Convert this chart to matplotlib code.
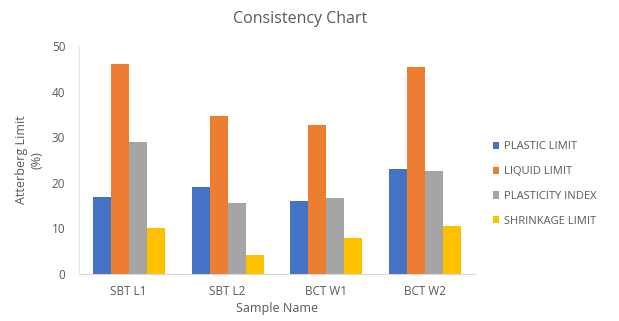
import numpy as np
import matplotlib
matplotlib.use("Agg")
import matplotlib.pyplot as plt

# sample data (Atterberg limits, %)
samples = ["SBT L1", "SBT L2", "BCT W1", "BCT W2"]
plastic_limit = [17.0, 19.0, 16.0, 23.0]
liquid_limit = [46.0, 34.6, 32.6, 45.3]
plasticity_index = [29.0, 15.6, 16.6, 22.5]
shrinkage_limit = [10.0, 4.3, 7.9, 10.6]

series = [
    ("PLASTIC LIMIT", plastic_limit, "#4472C4"),
    ("LIQUID LIMIT", liquid_limit, "#ED7D31"),
    ("PLASTICITY INDEX", plasticity_index, "#A5A5A5"),
    ("SHRINKAGE LIMIT", shrinkage_limit, "#FFC000"),
]

TXT = "#595959"
plt.rcParams["font.family"] = ["Open Sans", "DejaVu Sans"]

fig = plt.figure(figsize=(6.19, 3.21), dpi=100, facecolor="white")
ax = fig.add_axes([0.128, 0.146, 0.639, 0.711])

x = np.arange(len(samples))
w = 0.182
for i, (name, vals, col) in enumerate(series):
    ax.bar(x + (i - 1.5) * w, vals, width=w, color=col, label=name, zorder=2)

ax.set_xlim(-0.5, len(samples) - 0.5)
ax.set_ylim(0, 50)
ax.set_yticks(range(0, 51, 10))
ax.set_xticks(x)
ax.set_xticklabels(samples)
ax.tick_params(length=0, colors=TXT, labelsize=8.5)
ax.tick_params(axis="x", pad=8)
ax.tick_params(axis="y", pad=10)

for side in ("top", "right"):
    ax.spines[side].set_visible(False)
ax.spines["left"].set_color("#e6e6e6")
ax.spines["bottom"].set_color("#d9d9d9")

ax.set_xlabel("Sample Name", color=TXT, fontsize=9, labelpad=3)
ax.set_ylabel("Atterberg Limit\n(%)", color=TXT, fontsize=9, labelpad=6)

fig.text(0.485, 0.942, "Consistency Chart", ha="center", va="center",
         color=TXT, fontsize=11.5)

ax.legend(loc="center left", bbox_to_anchor=(1.02, 0.395), frameon=False,
          fontsize=8, labelcolor=TXT, handlelength=0.6, handleheight=0.6,
          handletextpad=0.4, labelspacing=1.25)

fig.savefig("out.png", dpi=100, facecolor="white")
